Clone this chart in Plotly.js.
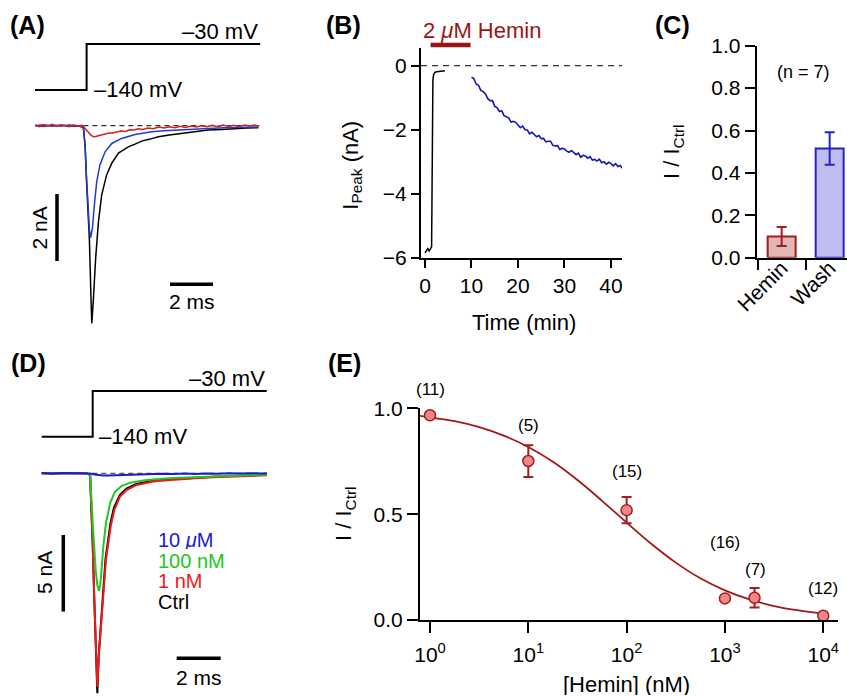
<!DOCTYPE html>
<html>
<head>
<meta charset="utf-8">
<script src="https://cdn.plot.ly/plotly-3.0.1.min.js"></script>
<style>html,body{margin:0;padding:0;background:#fff;}#chart{width:847px;height:696px;}</style>
</head>
<body>
<div id="chart"></div>
<script>
// ---------- DATA ----------
// Panel A: currents (ms, nA) and voltage step (ms, mV)
const aBlackT = [0.0,0.4,0.8,1.2,1.6,2.0,2.25,2.33,2.40,2.48,2.53,2.58,2.64,2.71,2.82,2.95,3.10,3.33,3.57,3.88,4.10,4.34,4.65,4.96,5.35,5.74,6.25,6.82,7.4,8.06,8.7,9.30,9.85,10.39];
const aBlackI = [0.0,0.02,-0.01,0.01,-0.01,0.0,-0.05,-0.6,-1.7,-2.8,-3.4,-4.6,-5.90,-5.25,-3.96,-2.87,-2.07,-1.47,-1.12,-0.82,-0.72,-0.63,-0.55,-0.46,-0.40,-0.33,-0.28,-0.23,-0.18,-0.13,-0.11,-0.08,-0.07,-0.06];
const aBlueT = [0.0,0.4,0.8,1.2,1.6,2.0,2.25,2.33,2.40,2.45,2.53,2.59,2.67,2.76,2.87,3.02,3.26,3.57,4.03,4.65,5.43,6.0,6.51,7.2,8.06,8.8,9.6,10.39];
const aBlueI = [0.01,-0.02,0.02,-0.01,0.02,0.0,-0.05,-0.6,-1.6,-2.3,-3.1,-3.34,-3.06,-2.37,-1.67,-1.17,-0.78,-0.53,-0.38,-0.26,-0.18,-0.15,-0.13,-0.10,-0.08,-0.06,-0.05,-0.04];
const aRedT = [0.0,0.2,0.4,0.6,0.8,1.0,1.2,1.4,1.6,1.8,2.0,2.2,2.3,2.4,2.5,2.6,2.7,2.8,2.9,3.0,3.15,3.3,3.45,3.6,3.8,4.0,4.2,4.4,4.6,4.8,5.0,5.25,5.5,5.75,6.0,6.25,6.5,6.75,7.0,7.25,7.5,7.75,8.0,8.25,8.5,8.75,9.0,9.25,9.5,9.75,10.0,10.2,10.39];
const aRedI = [0.02,-0.03,0.03,-0.01,0.04,-0.02,0.03,0.0,-0.03,0.02,-0.01,0.01,-0.06,-0.14,-0.22,-0.28,-0.32,-0.33,-0.31,-0.29,-0.27,-0.24,-0.22,-0.22,-0.18,-0.16,-0.17,-0.12,-0.13,-0.09,-0.11,-0.07,-0.09,-0.04,-0.07,-0.03,-0.06,-0.02,-0.05,-0.01,-0.04,0.0,-0.03,0.01,-0.03,0.02,-0.02,0.01,-0.03,0.02,-0.01,0.02,-0.01];
const aStepT = [0, 2.4, 2.4, 10.47];
const aStepV = [-140, -140, -30, -30];

// Panel B: peak current vs time (min, nA)
const bCtrlT = [0.0,0.3,0.6,0.9,1.2,1.42,1.50,1.56,1.62,1.70,1.85,2.1,2.5,3.0,3.5,4.0,4.3];
const bCtrlI = [-5.85,-5.78,-5.72,-5.79,-5.70,-5.66,-4.2,-2.2,-0.9,-0.45,-0.28,-0.21,-0.19,-0.18,-0.17,-0.16,-0.16];
const bWashT = [10,10.5,11,11.5,12,12.5,13,13.5,14,14.5,15,15.5,16,16.5,17,17.5,18,18.5,19,19.5,20,20.5,21,21.5,22,22.5,23,23.5,24,24.5,25,25.5,26,26.5,27,27.5,28,28.5,29,29.5,30,30.5,31,31.5,32,32.5,33,33.5,34,34.5,35,35.5,36,36.5,37,37.5,38,38.5,39,39.5,40,40.5,41,41.5,42,42.5];
const bWashI = [-0.36,-0.40,-0.57,-0.61,-0.77,-0.81,-0.88,-1.03,-1.09,-1.09,-1.27,-1.31,-1.43,-1.41,-1.56,-1.60,-1.63,-1.76,-1.74,-1.77,-1.87,-1.94,-1.89,-2.00,-2.01,-2.13,-2.08,-2.14,-2.22,-2.18,-2.28,-2.27,-2.38,-2.36,-2.36,-2.49,-2.51,-2.50,-2.62,-2.58,-2.60,-2.67,-2.71,-2.65,-2.71,-2.78,-2.73,-2.86,-2.80,-2.82,-2.89,-2.84,-2.95,-2.93,-2.98,-2.92,-3.03,-3.00,-3.08,-3.02,-3.06,-3.13,-3.06,-3.15,-3.12,-3.21];
const bHeminWindow = [1.2, 9.8];
const bTicksX = [0,10,20,30,40];
const bTicksY = [0,-2,-4,-6];

// Panel C: normalized current
const cCategories = ['Hemin','Wash'];
const cValues = [0.10, 0.515];
const cErrors = [0.045, 0.077];

// Panel D: currents (ms, nA) and voltage step
const dCtrlT = [0,0.5,1.0,1.5,2.0,2.2,2.24,2.317,2.392,2.468,2.529,2.59,2.68,2.78,2.90,3.12,3.28,3.55,3.85,4.3,5.07,5.7,6.29,7.0,7.8,8.6,9.32,10.23];
const dCtrlI = [0.0,-0.02,0.01,-0.01,0.0,-0.1,-1.30,-4.6,-8.3,-11.9,-14.35,-11.9,-10.0,-7.8,-5.6,-3.3,-2.25,-1.42,-1.0,-0.70,-0.48,-0.40,-0.34,-0.28,-0.22,-0.18,-0.14,-0.10];
const d1nMT = [0,0.5,1.0,1.5,2.0,2.2,2.24,2.317,2.392,2.468,2.529,2.605,2.695,2.80,2.92,3.135,3.30,3.56,3.86,4.32,5.07,5.7,6.29,7.0,7.8,8.6,9.32,10.23];
const d1nMI = [0.0,-0.02,0.01,-0.01,0.0,-0.1,-1.30,-4.57,-8.26,-11.74,-13.92,-11.74,-10.0,-7.83,-5.65,-3.48,-2.39,-1.52,-1.09,-0.76,-0.54,-0.46,-0.39,-0.32,-0.26,-0.21,-0.17,-0.13];
const d100nMT = [0,0.5,1.0,1.5,2.0,2.2,2.24,2.347,2.453,2.53,2.605,2.66,2.695,2.80,2.92,3.105,3.33,3.635,4.01,4.77,5.98,7.5,9.01,10.23];
const d100nMI = [0.0,0.01,-0.01,0.01,0.0,-0.1,-1.30,-3.91,-6.3,-7.3,-7.66,-7.3,-6.74,-4.79,-3.26,-1.96,-1.2,-0.83,-0.61,-0.44,-0.3,-0.22,-0.13,-0.09];
const d10uMT = [0,0.5,1.0,1.5,2.0,2.2,2.4,2.6,2.8,3.0,3.2,3.5,3.8,4.2,4.6,5.0,5.5,6.0,6.5,7.0,7.5,8.0,8.5,9.0,9.5,10.0,10.23];
const d10uMI = [0.02,-0.01,0.02,0.0,0.01,-0.02,-0.08,-0.12,-0.15,-0.15,-0.14,-0.12,-0.09,-0.08,-0.05,-0.06,-0.03,-0.05,-0.02,-0.04,-0.01,-0.03,0.0,-0.02,0.01,-0.01,0.0];
const dStepT = [0, 2.318, 2.318, 10.23];
const dStepV = [-140, -140, -30, -30];
const dLegend = ['10 <i>μ</i>M', '100 nM', '1 nM', 'Ctrl'];

// Panel E: concentration-response
const eConc = [1, 10, 100, 1000, 2000, 10000];
const eRatio = [0.967, 0.751, 0.519, 0.102, 0.105, 0.020];
const eErr = [NaN, 0.075, 0.062, NaN, 0.046, NaN];
const eN = ['(11)','(5)','(15)','(16)','(7)','(12)'];
const eFitConc = [0.79,1,1.778,3.162,5.623,10,17.78,31.62,56.23,100,177.8,316.2,562.3,1000,1778,3162,5623,10000];
const eFitRatio = [0.964,0.957,0.939,0.911,0.871,0.817,0.747,0.661,0.563,0.460,0.360,0.271,0.197,0.140,0.097,0.066,0.045,0.030];
const eTickVals = [1,10,100,1000,10000];
const eTickText = ['10<sup>0</sup>','10<sup>1</sup>','10<sup>2</sup>','10<sup>3</sup>','10<sup>4</sup>'];

// ---------- LAYOUT HELPERS ----------
const W = 847, H = 696;
const xd = (a, b) => [a / W, b / W];
const yd = (top, bot) => [1 - bot / H, 1 - top / H];
const px = v => v / W, py = v => 1 - v / H;

const FONT = 'Liberation Sans, Arial, Helvetica, sans-serif';
const hidden = {visible: false, showgrid: false, zeroline: false, fixedrange: true};
const visAx = {showline: true, linewidth: 2, linecolor: '#000', ticks: 'outside', tickwidth: 2, tickcolor: '#000',
  showgrid: false, zeroline: false, tickfont: {size: 21, color: '#000', family: FONT}, fixedrange: true};

const traces = [];
const L = (x, y, xa, ya, color, width, extra) => Object.assign({x, y, xaxis: xa, yaxis: ya, mode: 'lines',
  line: {color, width}, hoverinfo: 'skip'}, extra || {});

// Panel A
traces.push(L([2.25, 10.47], [0, 0], 'x', 'y', '#333', 1.2, {line: {color: '#333', width: 1.2, dash: '5px,4px'}}));
traces.push(L(aBlackT, aBlackI, 'x', 'y', '#000', 1.5));
traces.push(L(aBlueT, aBlueI, 'x', 'y', '#1f3ccc', 1.5));
traces.push(L(aRedT, aRedI, 'x', 'y', '#d42020', 1.5));
traces.push(L(aStepT, aStepV, 'x', 'y2', '#000', 2));
traces.push(L([1.023, 1.023], [-2.04, -4.04], 'x', 'y', '#000', 3.5));
traces.push(L([6.28, 8.28], [-4.73, -4.73], 'x', 'y', '#000', 3.5));

// Panel B
traces.push(L([-0.86, 42.37], [0, 0], 'x3', 'y3', '#333', 1.3, {line: {color: '#333', width: 1.3, dash: '6px,5px'}}));
traces.push(L(bCtrlT, bCtrlI, 'x3', 'y3', '#000', 1.5));
traces.push(L(bWashT, bWashI, 'x3', 'y3', '#1414b8', 1.6));
traces.push(L(bHeminWindow, [0.5, 0.5], 'x3', 'y8', '#9b1515', 4.5));

// Panel C
const cFill = ['#e3b6b6', '#bdbdf0'];
const cEdge = ['#a31d1d', '#2323c8'];
for (let i = 0; i < cCategories.length; i++) {
  traces.push({type: 'bar', x: [cCategories[i]], y: [cValues[i]], xaxis: 'x4', yaxis: 'y4', width: 0.583,
    marker: {color: cFill[i], line: {color: cEdge[i], width: 2}},
    error_y: {type: 'data', array: [cErrors[i]], color: cEdge[i], thickness: 2, width: 5}, hoverinfo: 'skip'});
}

// Panel D
traces.push(L([2.3, 10.23], [0, 0], 'x5', 'y5', '#555', 1.2, {line: {color: '#555', width: 1.2, dash: '5px,4px'}}));
traces.push(L(dCtrlT, dCtrlI, 'x5', 'y5', '#000', 2));
traces.push(L(d1nMT, d1nMI, 'x5', 'y5', '#ee1a1a', 2));
traces.push(L(d100nMT, d100nMI, 'x5', 'y5', '#20c820', 2));
traces.push(L(d10uMT, d10uMI, 'x5', 'y5', '#1a1ad0', 2));
traces.push(L(dStepT, dStepV, 'x5', 'y6', '#000', 2));
traces.push(L([0.982, 0.982], [-4.02, -9.02], 'x5', 'y5', '#000', 3.5));
traces.push(L([6.136, 8.136], [-12.07, -12.07], 'x5', 'y5', '#000', 3.5));

// Panel E
traces.push(L(eFitConc, eFitRatio, 'x7', 'y7', '#a01818', 1.8, {line: {color: '#a01818', width: 1.8, shape: 'spline'}}));
traces.push({x: eConc, y: eRatio, xaxis: 'x7', yaxis: 'y7', mode: 'markers', cliponaxis: false, hoverinfo: 'skip',
  marker: {size: 11, color: '#f28585', line: {color: '#a31d1d', width: 1.5}},
  error_y: {type: 'data', array: eErr, color: '#a31d1d', thickness: 2, width: 5}});

// ---------- ANNOTATIONS ----------
const ann = [];
const A = (text, x, y, o) => ann.push(Object.assign({text, x, y, xref: 'paper', yref: 'paper', showarrow: false,
  font: {size: 22, color: '#000', family: FONT}, xanchor: 'center', yanchor: 'middle'}, o || {}));
const F = (size, color) => ({size, color: color || '#000', family: FONT});
// panel labels
[['(A)', 27.5, 25], ['(B)', 343, 25], ['(C)', 672, 25], ['(D)', 28, 363], ['(E)', 344, 363]].forEach(p =>
  A('<b>' + p[0] + '</b>', px(p[1]), py(p[2]), {font: F(25)}));
// A
A('–30 mV', 10.465, -0.6, {xref: 'x', yref: 'y2', xanchor: 'right'});
A('–140 mV', 2.64, -138, {xref: 'x', yref: 'y2', xanchor: 'left'});
A('2 nA', 0.23, -3.04, {xref: 'x', yref: 'y', textangle: -90, font: F(21)});
A('2 ms', 7.28, -5.26, {xref: 'x', yref: 'y', font: F(21)});
// B
A('2 <i>μ</i>M Hemin', px(481.7), py(30), {font: F(22, '#9b1515')});
A('I<sub>Peak</sub> (nA)', px(351.7), py(165), {textangle: -90});
A('Time (min)', px(524), py(322));
// C
A('I / I<sub>Ctrl</sub>', px(673), py(152), {textangle: -90});
A('(n = 7)', px(803), py(72), {font: F(18)});
// D
A('–30 mV', 10.23, 1.3, {xref: 'x5', yref: 'y6', xanchor: 'right'});
A('–140 mV', 2.5, -140, {xref: 'x5', yref: 'y6', xanchor: 'left'});
A('5 nA', 0.15, -6.5, {xref: 'x5', yref: 'y5', textangle: -90, font: F(21)});
A('2 ms', 7.14, -13.35, {xref: 'x5', yref: 'y5', font: F(21)});
const dLegCol = ['#1a1ad0', '#20c820', '#ee1a1a', '#000'];
const dLegY = [-4.35, -5.66, -7.0, -8.35];
dLegend.forEach((t, i) => A(t, 5.25, dLegY[i], {xref: 'x5', yref: 'y5', xanchor: 'left', height: 19,
  borderpad: 0, font: F(20, dLegCol[i])}));
// E
const eNpos = [[430, 390], [528.3, 425], [626.7, 471], [725, 542.7], [755, 569.3], [823.3, 588.3]];
eN.forEach((t, i) => A(t, px(eNpos[i][0]), py(eNpos[i][1]), {font: F(17)}));
A('I / I<sub>Ctrl</sub>', px(345), py(514), {textangle: -90});
A('[Hemin] (nM)', px(626.7), py(684), {height: 22, borderpad: 0});

// ---------- LAYOUT ----------
const layout = {
  width: W, height: H, margin: {l: 0, r: 0, t: 0, b: 0, pad: 0},
  paper_bgcolor: '#fff', plot_bgcolor: 'rgba(0,0,0,0)',
  font: {family: FONT, size: 21, color: '#000'},
  showlegend: false, barmode: 'overlay',
  // A
  xaxis: Object.assign({}, hidden, {domain: xd(20, 270), range: [-0.698, 10.93], anchor: 'y'}),
  yaxis: Object.assign({}, hidden, {domain: yd(105, 335), range: [-6.248, 0.618], anchor: 'x'}),
  yaxis2: Object.assign({}, hidden, {domain: yd(25, 102), range: [-168.7, 15.43], anchor: 'x'}),
  // B
  xaxis3: Object.assign({}, visAx, {domain: xd(421, 622), range: [-0.86, 42.37], anchor: 'y3', tickvals: bTicksX, ticklen: 8}),
  yaxis3: Object.assign({}, visAx, {domain: yd(48.3, 258), range: [-6.01, 0.544], anchor: 'x3', tickvals: bTicksY, ticklen: 8}),
  yaxis8: Object.assign({}, hidden, {domain: yd(35, 55), range: [0, 1], anchor: 'x3'}),
  // C
  xaxis4: Object.assign({}, visAx, {domain: xd(756.7, 846.7), type: 'category', categoryorder: 'array',
    categoryarray: cCategories, range: [-0.52, 1.355], anchor: 'y4', tickson: 'boundaries', ticklen: 10,
    tickangle: -45, ticklabelstandoff: -12}),
  yaxis4: Object.assign({}, visAx, {domain: yd(45.7, 257.7), range: [0, 1.0], anchor: 'x4',
    tickvals: [0, 0.2, 0.4, 0.6, 0.8, 1.0], tickformat: '.1f', ticklen: 10}),
  // D
  xaxis5: Object.assign({}, hidden, {domain: xd(25, 275), range: [-0.759, 10.605], anchor: 'y5'}),
  yaxis5: Object.assign({}, hidden, {domain: yd(455, 696), range: [-14.527, 1.194], anchor: 'x5'}),
  yaxis6: Object.assign({}, hidden, {domain: yd(365, 450), range: [-172, 32.6], anchor: 'x5'}),
  // E
  xaxis7: Object.assign({}, visAx, {domain: xd(420, 838.3), type: 'log', range: [-0.1017, 4.153], anchor: 'y7',
    tickvals: eTickVals, ticktext: eTickText, ticklen: 11, ticklabelstandoff: 4}),
  yaxis7: Object.assign({}, visAx, {domain: yd(408.3, 620), range: [0, 1], anchor: 'x7',
    tickvals: [0, 0.5, 1.0], ticktext: ['0.0', '0.5', '1.0'], ticklen: 11}),
  annotations: ann
};

Plotly.newPlot('chart', traces, layout, {staticPlot: true, displayModeBar: false});
</script>
</body>
</html>
